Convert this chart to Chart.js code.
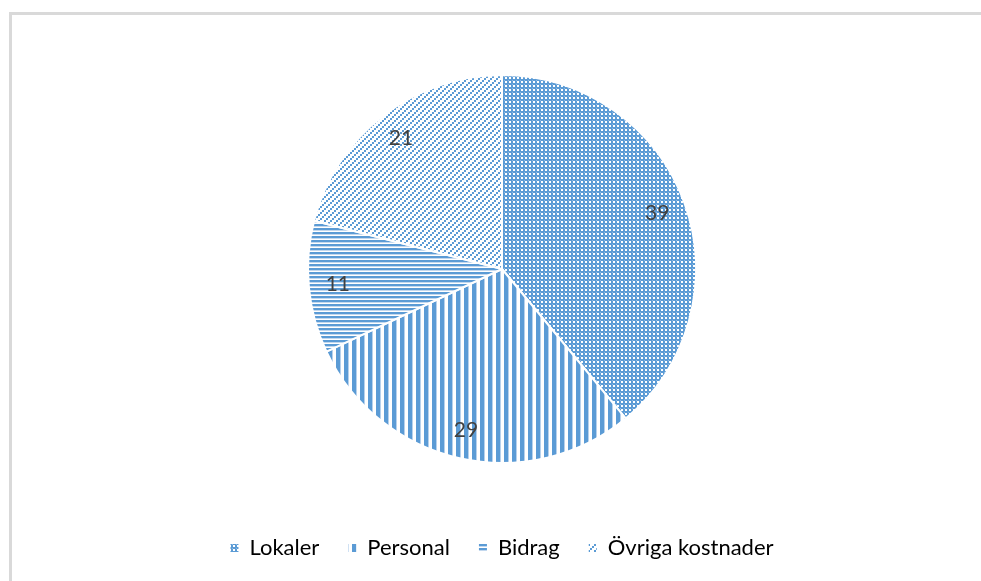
<!DOCTYPE html>
<html>
<head>
<meta charset="utf-8">
<script src="https://cdn.jsdelivr.net/npm/chart.js@4"></script>
<style>
  html, body { margin: 0; padding: 0; background: #fff; }
  #wrap { position: relative; width: 981px; height: 581px; overflow: hidden; }
  #frame { position: absolute; left: 9px; top: 12px; width: 1000px; height: 600px;
           border-left: 3px solid #d9d9d9; border-top: 3px solid #d9d9d9; }
  #chart { position: absolute; left: 0; top: 0; }
</style>
</head>
<body>
<div id="wrap">
  <div id="frame"></div>
  <canvas id="chart" width="981" height="581"></canvas>
</div>
<script>
const labels = ["Lokaler", "Personal", "Bidrag", "Övriga kostnader"];
const values = [39, 29, 11, 21];

const blue = '#5B9BD5';

// small tiles drawn into canvases, used as fill patterns
function makePattern(w, h, draw) {
  const c = document.createElement('canvas');
  c.width = w; c.height = h;
  const g = c.getContext('2d');
  g.fillStyle = '#fff';
  g.fillRect(0, 0, w, h);
  draw(g);
  return c.getContext('2d').createPattern(c, 'repeat');
}

const ctx = document.getElementById('chart').getContext('2d');

const patterns = [
  // checker
  makePattern(4, 4, g => {
    g.fillStyle = blue; g.fillRect(0, 0, 4, 4);
    g.fillStyle = '#ffffff'; g.fillRect(1, 1, 2, 2);
    g.fillStyle = '#8fb9e3'; g.fillRect(0, 0, 1, 1);
  }),
  // vertical stripes
  makePattern(8, 8, g => {
    g.fillStyle = blue; g.fillRect(0, 0, 4, 8);
    g.fillStyle = '#b7d1ec'; g.fillRect(4, 0, 1, 8);
  }),
  // horizontal lines
  makePattern(4, 4, g => {
    g.fillStyle = blue; g.fillRect(0, 0, 4, 2);
    g.fillStyle = '#c3d8ee'; g.fillRect(0, 2, 4, 1);
  }),
  // dotted diagonals
  makePattern(6, 6, g => {
    g.fillStyle = '#c3d8ee';
    for (let i = 0; i < 6; i++) g.fillRect(i, 5 - i, 1, 1);
    g.fillStyle = blue;
    for (let i = 0; i < 6; i += 2) g.fillRect(i, 4 - i, 2, 2);
  })
];

const valueLabels = {
  id: 'valueLabels',
  afterDatasetsDraw(chart) {
    const c = chart.ctx;
    const meta = chart.getDatasetMeta(0);
    c.save();
    c.font = '21px Lato, "Open Sans", sans-serif';
    c.fillStyle = '#404040';
    c.textAlign = 'center';
    c.textBaseline = 'middle';
    meta.data.forEach((arc, i) => {
      const mid = (arc.startAngle + arc.endAngle) / 2;
      const r = arc.outerRadius * 0.85;
      c.fillText(values[i], arc.x + Math.cos(mid) * r, arc.y + Math.sin(mid) * r);
    });
    c.restore();
  }
};

new Chart(ctx, {
  type: 'pie',
  data: {
    labels: labels,
    datasets: [{
      data: values,
      backgroundColor: patterns,
      borderColor: '#ffffff',
      borderWidth: 2,
      radius: 194
    }]
  },
  options: {
    responsive: false,
    animation: false,
    layout: { padding: { left: 23, top: 30, bottom: 12 } },
    plugins: {
      tooltip: { enabled: false },
      legend: {
        position: 'bottom',
        labels: {
          color: '#595959',
          font: { family: 'Lato, "Open Sans", sans-serif', size: 22 },
          boxWidth: 8,
          boxHeight: 8,
          padding: 29,
          generateLabels: (chart) => labels.map((l, i) => ({
            text: l,
            fillStyle: patterns[i],
            strokeStyle: 'rgba(0,0,0,0)',
            lineWidth: 0,
            index: i
          }))
        }
      }
    }
  },
  plugins: [valueLabels]
});
</script>
</body>
</html>
